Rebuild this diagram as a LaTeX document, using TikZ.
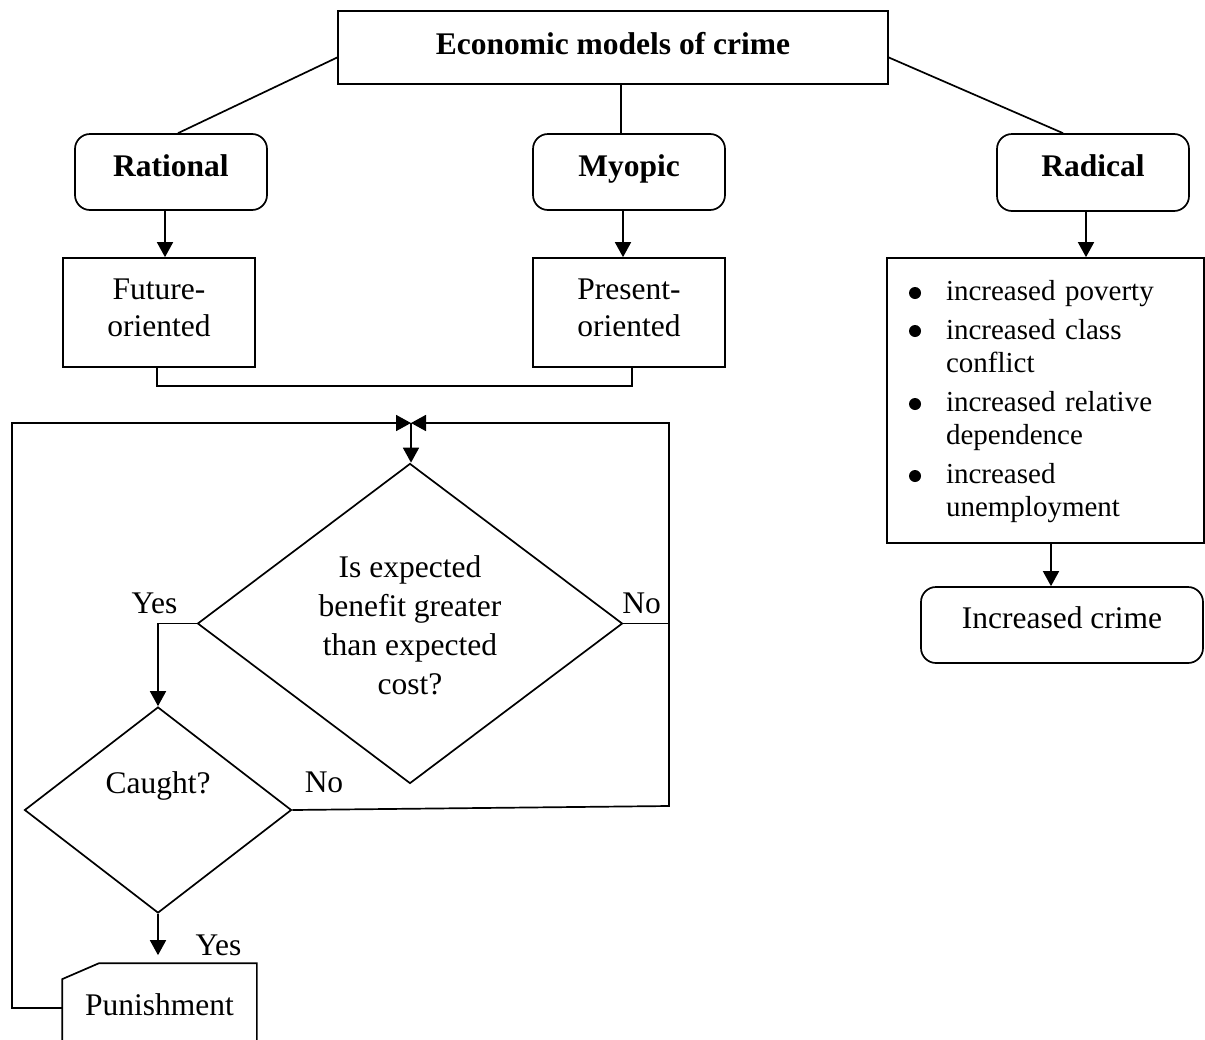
\documentclass[tikz,border=0pt]{standalone}
\usepackage{fontspec}
\setmainfont{Liberation Serif}
\usetikzlibrary{arrows.meta,shapes.geometric}
\begin{document}
\begin{tikzpicture}[x=1pt,y=-1pt,
  line width=1.7pt,
  font=\fontsize{31.5}{37}\selectfont,
  bf/.style={font=\fontsize{31.5}{37}\selectfont\bfseries},
  box/.style={draw,rectangle,inner sep=0pt},
  rbox/.style={draw,rectangle,rounded corners=15pt,inner sep=0pt},
  dia/.style={draw,diamond,inner sep=0pt},
  oneline/.style={text height=21.5pt,text depth=#1},
  arr/.style={-{Triangle[length=15pt,width=16pt]}},
  lbl/.style={anchor=base,inner sep=0pt},
  bullet/.style={fill,radius=6pt}]
\useasboundingbox (0,0) rectangle (1205,1039);
\clip (0,0) rectangle (1205,1039);

% top level
\node[box,bf,oneline=7.5pt,minimum width=550pt,minimum height=73pt] (top) at (613,47.5) {Economic models of crime};
\node[rbox,bf,oneline=13pt,minimum width=192pt,minimum height=76pt] (rat) at (171,172) {Rational};
\node[rbox,bf,oneline=13pt,minimum width=192pt,minimum height=76pt] (myo) at (629,172) {Myopic};
\node[rbox,bf,oneline=13pt,minimum width=192pt,minimum height=77pt] (rad) at (1093,172.5) {Radical};

\node[box,align=center,minimum width=192pt,minimum height=109pt] (fut) at (159,312.5) {Future-\\oriented\rule[-9.5pt]{0pt}{9.5pt}};
\node[box,align=center,minimum width=192pt,minimum height=109pt] (pre) at (629,312.5) {Present-\\oriented\rule[-9.5pt]{0pt}{9.5pt}};

\node[box,text width=272pt,inner xsep=22.5pt,inner ysep=0pt,minimum height=285pt,align=left,font=\fontsize{29}{33}\selectfont] (lst) at (1045.5,400.5)
 {\noindent\begin{tabular}{@{}p{36.5pt}@{}l@{}}
  & \rule{0pt}{26pt}increased poverty \\[6pt]
  & increased class \\
  & conflict \\[6pt]
  & increased relative \\
  & dependence \\[6pt]
  & increased \\
  & unemployment
 \end{tabular}};
\fill[bullet] (915,293) circle;
\fill[bullet] (915,331) circle;
\fill[bullet] (915,404) circle;
\fill[bullet] (915,476) circle;

\node[rbox,oneline=15.5pt,minimum width=282pt,minimum height=76pt] (crime) at (1062,625) {Increased crime};

% decision part
\node[dia,aspect=1.33,align=center,minimum width=425pt,minimum height=320pt,font=\fontsize{31.5}{39.3}\selectfont] (big) at (410,623.5) {\rule{0pt}{25.5pt}Is expected\\benefit greater\\than expected\\cost?};
\node[dia,aspect=1.3,oneline=55.5pt,minimum width=267pt,minimum height=206pt] (caught) at (158,810) {Caught?};

\node[inner sep=0pt,minimum width=193pt,minimum height=81pt] (pun) at (159.5,1004.5) {Punishment};
\draw (pun.south west) -- ([yshift=-16pt]pun.north west) -- ([xshift=37pt]pun.north west) -- (pun.north east) -- (pun.south east);

% connectors (tree)
\draw ([yshift=-10pt]top.west) -- ([xshift=7pt]rat.north);
\draw ([xshift=8pt]top.south) -- ([xshift=-8pt]myo.north);
\draw ([yshift=-10pt]top.east) -- ([xshift=-30pt]rad.north);
\draw[arr] ([xshift=-6pt]rat.south) -- ([xshift=-6pt]rat.south |- fut.north);
\draw[arr] ([xshift=-6pt]myo.south) -- ([xshift=-6pt]myo.south |- pre.north);
\draw[arr] ([xshift=-7pt]rad.south) -- ([xshift=-7pt]rad.south |- lst.north);
\draw[arr] ([xshift=5.5pt]lst.south) -- ([xshift=5.5pt]lst.south |- crime.north);
\draw ([xshift=-2pt]fut.south) -- ++(0,18) -| ([xshift=3pt]pre.south);

% loop
\coordinate (j) at (411,423);
\coordinate (lc) at (12,423);
\coordinate (rc) at (669,423);
\coordinate (rcb) at (669,806);
\draw[arr] ([yshift=-3.5pt]pun.west) -| (lc) -- (j);
\draw[arr] (caught.east) -- (rcb) -- (rc) -- (j);
\draw (big.east) -- (big.east -| rc);
\draw[arr] (j) -- (j |- big.north);
\draw[arr] (big.west) -| (caught.north);
\draw[arr] (caught.south) -- ([yshift=8pt]caught.south |- pun.north);

% labels
\node[lbl] (y1) at (154.5,613) {Yes};
\node[lbl] (n1) at (641.5,613) {No};
\node[lbl] (n2) at (324,792.7) {No};
\node[lbl] (y2) at (218.5,955) {Yes};
\end{tikzpicture}
\end{document}
